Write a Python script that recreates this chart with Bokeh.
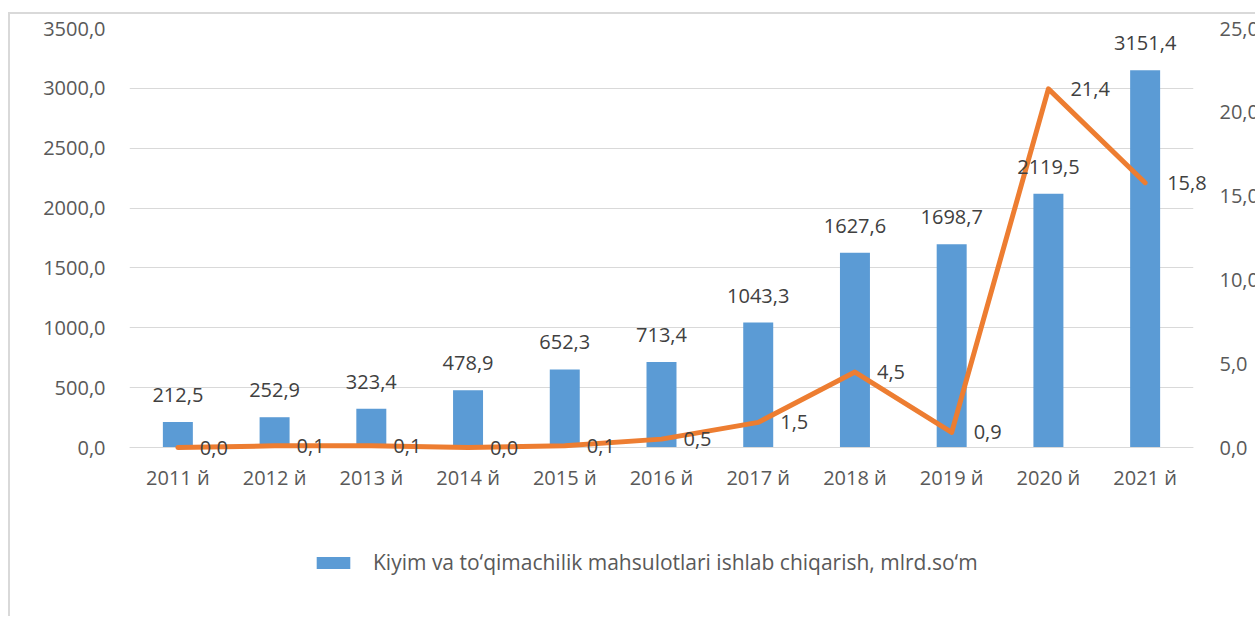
from bokeh.plotting import figure
from bokeh.models import (ColumnDataSource, Range1d, LinearAxis, FixedTicker,
                          Legend, LegendItem)
from bokeh.core.properties import value
from bokeh.embed import file_html
from bokeh.resources import INLINE

# ---- data ----
years = ["2011 й", "2012 й", "2013 й", "2014 й", "2015 й", "2016 й",
         "2017 й", "2018 й", "2019 й", "2020 й", "2021 й"]
production = [212.5, 252.9, 323.4, 478.9, 652.3, 713.4, 1043.3, 1627.6,
              1698.7, 2119.5, 3151.4]
growth = [0.0, 0.1, 0.1, 0.0, 0.1, 0.5, 1.5, 4.5, 0.9, 21.4, 15.8]
left_ticks = [0, 500, 1000, 1500, 2000, 2500, 3000, 3500]
right_ticks = [0, 5, 10, 15, 20, 25]
legend_label = "Kiyim va to‘qimachilik mahsulotlari ishlab chiqarish, mlrd.so‘m"


def fmt(v):
    return f"{v:.1f}".replace(".", ",")


FONT = "Open Sans"
TICK_COLOR = "#595959"
LABEL_COLOR = "#404040"
FS = "20px"

# layout geometry (pixels): value area height and extra room below it for
# the category labels and the legend
PLOT_H = 419
FRAME_H = 588
LEFT_MAX, RIGHT_MAX = left_ticks[-1], right_ticks[-1]
left_start = -LEFT_MAX * (FRAME_H - PLOT_H) / PLOT_H
right_start = -RIGHT_MAX * (FRAME_H - PLOT_H) / PLOT_H

src = ColumnDataSource(dict(
    year=years, prod=production, prod_lbl=[fmt(v) for v in production],
    growth=growth, growth_lbl=[fmt(v) for v in growth],
))

p = figure(x_range=years, y_range=Range1d(left_start, LEFT_MAX),
           frame_width=1064, frame_height=FRAME_H,
           output_backend="svg", toolbar_location=None,
           min_border_left=119, min_border_right=61, min_border_top=14,
           min_border_bottom=0)
p.margin = (12, 0, 0, 8)
p.styles = {"border-top": "2px solid #d9d9d9", "border-left": "2px solid #d9d9d9"}
p.outline_line_color = None
p.background_fill_color = "white"
p.border_fill_color = "white"

p.extra_y_ranges = {"pct": Range1d(right_start, RIGHT_MAX)}

bars = p.vbar(x="year", top="prod", width=0.31, source=src,
              fill_color="#5B9BD5", line_color=None)
line = p.line(x="year", y="growth", source=src, y_range_name="pct",
              line_color="#ED7D31", line_width=5, line_join="round",
              line_cap="round", level="overlay")

# axes
p.yaxis.ticker = FixedTicker(ticks=left_ticks)
p.yaxis.major_label_overrides = {t: fmt(t) for t in left_ticks}
right = LinearAxis(y_range_name="pct", ticker=FixedTicker(ticks=right_ticks))
right.major_label_overrides = {t: fmt(t) for t in right_ticks}
p.add_layout(right, "right")

for ax in [p.yaxis[0], right]:
    ax.axis_line_color = None
    ax.major_tick_line_color = None
    ax.minor_tick_line_color = None
    ax.major_label_text_font = FONT
    ax.major_label_text_font_size = FS
    ax.major_label_text_color = TICK_COLOR
p.yaxis[0].major_label_standoff = 18
right.major_label_standoff = 20
right.major_label_text_align = "left"

p.xaxis.fixed_location = 0
p.xaxis.axis_line_color = "#D9D9D9"
p.xaxis.axis_line_width = 1
p.xaxis.major_tick_line_color = None
p.xaxis.minor_tick_line_color = None
p.xaxis.major_label_text_font = FONT
p.xaxis.major_label_text_font_size = FS
p.xaxis.major_label_text_color = TICK_COLOR
p.xaxis.major_label_standoff = 10

p.xgrid.grid_line_color = None
p.ygrid.grid_line_color = "#D9D9D9"
p.ygrid.grid_line_width = 1

# data labels (overlay level so they may extend past the plot frame)
p.text(x="year", y="prod", text="prod_lbl", source=src,
       text_align="center", text_baseline="bottom", y_offset=-20,
       text_font=value(FONT), text_font_size=value(FS),
       text_color=LABEL_COLOR, level="overlay")
p.text(x="year", y="growth", text="growth_lbl", source=src,
       y_range_name="pct", x_offset=22, y_offset=0,
       text_align="left", text_baseline="middle",
       text_font=value(FONT), text_font_size=value(FS),
       text_color=LABEL_COLOR, level="overlay")

legend = Legend(items=[LegendItem(label=legend_label, renderers=[bars])],
                location=(183, 40), orientation="horizontal",
                glyph_width=42, glyph_height=15, label_standoff=19,
                label_text_font=FONT, label_text_font_size="21px",
                label_text_color=TICK_COLOR, border_line_color=None,
                background_fill_alpha=0, padding=0, margin=0, spacing=0)
p.add_layout(legend, "center")

open("out.html", "w").write(file_html(p, INLINE))
